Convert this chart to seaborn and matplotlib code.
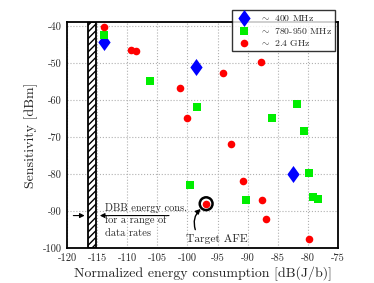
import numpy as np
import pandas as pd
import matplotlib
matplotlib.use("Agg")
import matplotlib.pyplot as plt
import seaborn as sns
from matplotlib.patches import Rectangle
from matplotlib.path import Path

# data
x_400 = [-113.8, -98.6, -82.5]
y_400 = [-44.5, -51.0, -80.0]

x_900 = [-113.8, -106.2, -98.4, -85.9, -81.9, -80.7, -99.5, -90.3, -79.9, -79.1, -78.3]
y_900 = [-42.5, -55.0, -62.0, -65.0, -61.0, -68.3, -83.0, -87.0, -79.6, -86.3, -86.7]

x_24 = [-113.8, -109.4, -108.6, -101.2, -100.0, -94.1, -87.8, -92.8, -90.8, -87.7, -87.0, -79.9, -96.9]
y_24 = [-40.2, -46.4, -46.7, -56.8, -64.9, -52.8, -49.7, -72.0, -82.0, -87.0, -92.2, -97.4, -88.0]

target_x, target_y = -96.9, -88.0
dbb_x = [-116.5, -115.1]

bands = ["$\\sim$ 400 MHz", "$\\sim$ 780-950 MHz", "$\\sim$ 2.4 GHz"]
dbb_lines = ["DBB energy cons.", "for a range of", "data rates"]

df = pd.concat([
    pd.DataFrame({"x": x_400, "y": y_400, "band": bands[0]}),
    pd.DataFrame({"x": x_900, "y": y_900, "band": bands[1]}),
    pd.DataFrame({"x": x_24, "y": y_24, "band": bands[2]}),
])

sns.set_style("white")
plt.rcParams["font.family"] = ["cmr10"]
plt.rcParams["mathtext.fontset"] = "cm"
plt.rcParams["axes.unicode_minus"] = False
plt.rcParams["axes.formatter.use_mathtext"] = False

fig = plt.figure(figsize=(3.74, 2.83), dpi=100)
ax = fig.add_axes([0.179, 0.123, 0.725, 0.799])

# matlab-like diamond, a bit taller than wide
diamond = Path([(0, 1), (0.72, 0), (0, -1), (-0.72, 0), (0, 1)],
               [Path.MOVETO, Path.LINETO, Path.LINETO, Path.LINETO, Path.CLOSEPOLY])

colors = {bands[0]: "#0000ff", bands[1]: "#00ee00", bands[2]: "#ff0000"}
markers = {bands[0]: diamond, bands[1]: "s", bands[2]: "o"}
sizes = {bands[0]: 150, bands[1]: 34, bands[2]: 30}

for b in bands:
    sub = df[df["band"] == b]
    sns.scatterplot(data=sub, x="x", y="y", color=colors[b], marker=markers[b],
                    s=sizes[b], linewidth=0, label=b, ax=ax, zorder=3)

# ring round the target AFE
ax.scatter([target_x], [target_y], s=85, facecolor="none", edgecolor="black",
           linewidth=1.8, zorder=4)

# DBB energy band
ax.add_patch(Rectangle((dbb_x[0], -100), dbb_x[1] - dbb_x[0], 61,
                       facecolor="white", edgecolor="black", hatch="/////",
                       linewidth=1.3, zorder=2))

ax.set_xlim(-120, -75)
ax.set_ylim(-100, -39)
ax.set_xticks(np.arange(-120, -74, 5))
ax.set_yticks(np.arange(-100, -39, 10))
ax.grid(True, linestyle=":", color="#b0b0b0", linewidth=0.8)
ax.tick_params(direction="in", labelsize=7.5, length=3, width=0.6)
for sp in ax.spines.values():
    sp.set_linewidth(1.3)
    sp.set_color("black")

ax.set_xlabel("Normalized energy consumption [dB(J/b)]", fontsize=10, labelpad=3)
ax.set_ylabel("Sensitivity [dBm]", fontsize=10, labelpad=4)

# arrows pointing at the DBB band
ax.annotate("", xy=(-116.6, -91.2), xytext=(-119.4, -91.2),
            arrowprops=dict(arrowstyle="-|>", color="black", lw=0.8, mutation_scale=7))
ax.annotate("", xy=(-115.0, -91.2), xytext=(-102.6, -91.2),
            arrowprops=dict(arrowstyle="-|>", color="black", lw=0.8, mutation_scale=7))
for line, yb in zip(dbb_lines, [-89.9, -93.3, -96.7]):
    ax.text(-113.7, yb, line, fontsize=7.5, va="baseline", ha="left")

ax.text(-95.2, -98.2, "Target AFE", fontsize=8.3, ha="center", va="baseline")
ax.annotate("", xy=(-97.8, -89.4), xytext=(-98.7, -95.0),
            arrowprops=dict(arrowstyle="-|>", color="black", lw=1.0, mutation_scale=7,
                            connectionstyle="arc3,rad=-0.3",
                            shrinkA=0, shrinkB=0))

leg = ax.legend(loc="upper right", bbox_to_anchor=(335 / 374, 1 - 10 / 283),
                bbox_transform=fig.transFigure, fontsize=7, frameon=True,
                fancybox=False, borderpad=0.3, handletextpad=0.8,
                labelspacing=0.2, handlelength=1.8, borderaxespad=0)
leg.get_frame().set_edgecolor("black")
leg.get_frame().set_linewidth(1.0)

fig.savefig("out.png", dpi=100)
